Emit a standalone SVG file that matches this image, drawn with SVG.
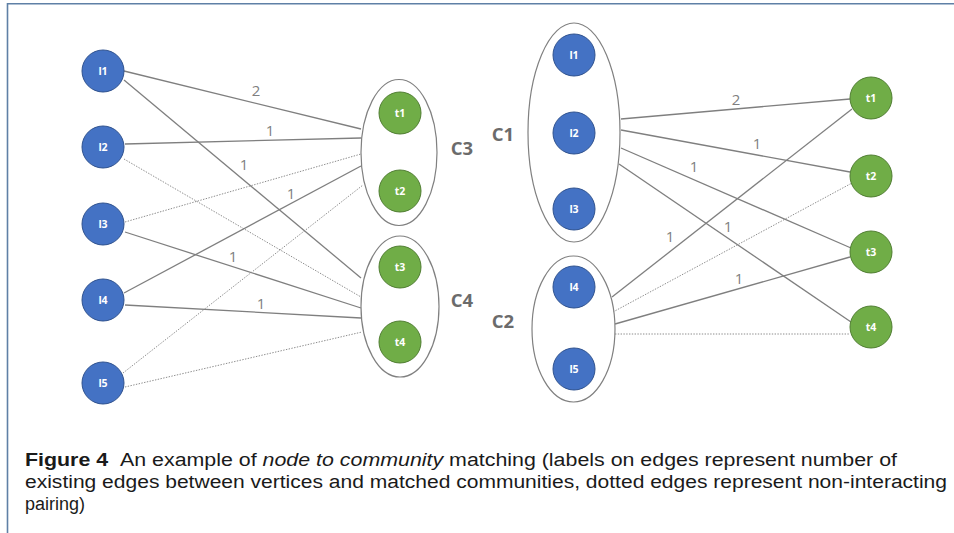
<svg xmlns="http://www.w3.org/2000/svg" width="954" height="533" viewBox="0 0 954 533">
  <style>
    .frame { stroke: #5f80a6; stroke-width: 1.6; fill: none; }
    .edge { stroke: #7f7f7f; stroke-width: 1.3; fill: none; }
    .dot { stroke: #8c8c8c; stroke-width: 1; stroke-dasharray: 1.4 1.4; fill: none; }
    .comm { fill: #ffffff; stroke: #808080; stroke-width: 1.2; }
    .blue { fill: #4472c4; stroke: #2f528f; stroke-width: 1; }
    .green { fill: #70ad47; stroke: #507e32; stroke-width: 1; }
    .nl { font-family: "Open Sans", "Liberation Sans", sans-serif; font-size: 10.5px; font-weight: bold; fill: #ffffff; text-anchor: middle; }
    .el { font-family: "Open Sans", "Liberation Sans", sans-serif; font-size: 15px; fill: #7f7f7f; text-anchor: middle; }
    .cl { font-family: "Open Sans", "Liberation Sans", sans-serif; font-size: 18.5px; font-weight: bold; fill: #6b6b6b; text-anchor: middle; }
    .cap { font-family: "Liberation Sans", "DejaVu Sans", sans-serif; font-size: 18px; fill: #1a1a1a; }
  </style>

  <!-- page frame -->
  <path class="frame" d="M7.5 533 V3.8 H954"/>

  <!-- connectors -->
  <g id="connectors">
    <!-- left: vertices to communities C3 / C4 -->
    <line class="edge" x1="124" y1="71" x2="361" y2="129"/>
    <line class="edge" x1="124" y1="80" x2="361" y2="278"/>
    <line class="edge" x1="125" y1="144" x2="361" y2="138"/>
    <line class="dot" x1="124" y1="159" x2="361" y2="297"/>
    <line class="dot" x1="125" y1="222" x2="361" y2="154"/>
    <line class="edge" x1="125" y1="232" x2="361" y2="308"/>
    <line class="edge" x1="124" y1="293" x2="361" y2="166"/>
    <line class="edge" x1="125" y1="305" x2="361" y2="318"/>
    <line class="dot" x1="123" y1="373" x2="363" y2="185"/>
    <line class="dot" x1="125" y1="387" x2="362" y2="332"/>
    <!-- right: communities C1 / C2 to vertices -->
    <line class="edge" x1="621" y1="119" x2="850" y2="99"/>
    <line class="edge" x1="621" y1="130" x2="850" y2="172"/>
    <line class="edge" x1="621" y1="148" x2="851" y2="248"/>
    <line class="edge" x1="619" y1="164" x2="851" y2="322"/>
    <line class="edge" x1="612" y1="297" x2="852" y2="109"/>
    <line class="dot" x1="613" y1="312" x2="852" y2="183"/>
    <line class="edge" x1="615" y1="324" x2="850" y2="257"/>
    <line class="dot" x1="615" y1="334" x2="850" y2="334"/>

    <!-- edge counts -->
    <text class="el" x="256" y="95.5">2</text>
    <text class="el" x="270" y="135.5">1</text>
    <text class="el" x="244" y="169.5">1</text>
    <text class="el" x="291" y="198.5">1</text>
    <text class="el" x="233" y="261.5">1</text>
    <text class="el" x="261" y="308.5">1</text>
    <text class="el" x="736" y="104.5">2</text>
    <text class="el" x="757" y="148.5">1</text>
    <text class="el" x="694" y="171.5">1</text>
    <text class="el" x="728" y="231.5">1</text>
    <text class="el" x="670" y="241.5">1</text>
    <text class="el" x="739" y="283.5">1</text>
  </g>

  <!-- left vertices -->
  <g id="L-l1"><circle class="blue" cx="103" cy="71" r="21"/><text class="nl" x="103" y="74.5">l1</text></g>
  <g id="L-l2"><circle class="blue" cx="103" cy="147" r="21"/><text class="nl" x="103" y="150.5">l2</text></g>
  <g id="L-l3"><circle class="blue" cx="103" cy="224" r="21"/><text class="nl" x="103" y="227.5">l3</text></g>
  <g id="L-l4"><circle class="blue" cx="103" cy="300" r="21"/><text class="nl" x="103" y="303.5">l4</text></g>
  <g id="L-l5"><circle class="blue" cx="103" cy="383" r="21"/><text class="nl" x="103" y="386.5">l5</text></g>

  <!-- community C3 -->
  <g id="C3">
    <ellipse class="comm" cx="399" cy="152.5" rx="38" ry="73"/>
    <circle class="green" cx="400" cy="113" r="21"/><text class="nl" x="400" y="116.5">t1</text>
    <circle class="green" cx="400" cy="191" r="21"/><text class="nl" x="400" y="194.5">t2</text>
    <text class="cl" x="462" y="155">C3</text>
  </g>
  <!-- community C4 -->
  <g id="C4">
    <ellipse class="comm" cx="400" cy="306.5" rx="39" ry="70.5"/>
    <circle class="green" cx="400" cy="267" r="21"/><text class="nl" x="400" y="270.5">t3</text>
    <circle class="green" cx="400" cy="342" r="21"/><text class="nl" x="400" y="345.5">t4</text>
    <text class="cl" x="462" y="307">C4</text>
  </g>

  <!-- community C1 -->
  <g id="C1">
    <ellipse class="comm" cx="574" cy="132.5" rx="46" ry="109.5"/>
    <circle class="blue" cx="574" cy="55" r="21"/><text class="nl" x="574" y="58.5">l1</text>
    <circle class="blue" cx="574" cy="133" r="21"/><text class="nl" x="574" y="136.5">l2</text>
    <circle class="blue" cx="574" cy="209" r="21"/><text class="nl" x="574" y="212.5">l3</text>
    <text class="cl" x="503" y="141">C1</text>
  </g>
  <!-- community C2 -->
  <g id="C2">
    <ellipse class="comm" cx="573.5" cy="329" rx="41.5" ry="73"/>
    <circle class="blue" cx="574" cy="287" r="21"/><text class="nl" x="574" y="290.5">l4</text>
    <circle class="blue" cx="574" cy="369" r="21"/><text class="nl" x="574" y="372.5">l5</text>
    <text class="cl" x="503" y="328">C2</text>
  </g>

  <!-- right vertices -->
  <g id="R-t1"><circle class="green" cx="871" cy="98" r="21"/><text class="nl" x="871" y="101.5">t1</text></g>
  <g id="R-t2"><circle class="green" cx="871" cy="176" r="21"/><text class="nl" x="871" y="179.5">t2</text></g>
  <g id="R-t3"><circle class="green" cx="871" cy="252" r="21"/><text class="nl" x="871" y="255.5">t3</text></g>
  <g id="R-t4"><circle class="green" cx="871" cy="327" r="21"/><text class="nl" x="871" y="330.5">t4</text></g>

  <!-- caption -->
  <g id="caption">
    <text class="cap" x="25" y="466" textLength="872" lengthAdjust="spacingAndGlyphs"><tspan font-weight="bold">Figure 4</tspan><tspan dx="6"> An example of </tspan><tspan font-style="italic">node to community</tspan> matching (labels on edges represent number of</text>
    <text class="cap" x="25" y="488" textLength="922" lengthAdjust="spacingAndGlyphs">existing edges between vertices and matched communities, dotted edges represent non-interacting</text>
    <text class="cap" x="25" y="510">pairing)</text>
  </g>
</svg>
